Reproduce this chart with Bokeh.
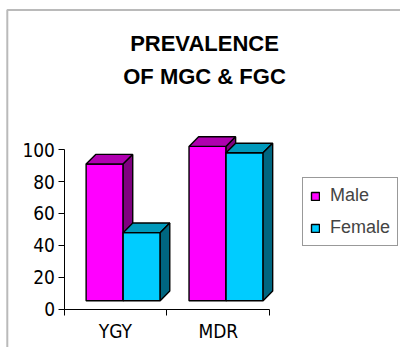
from bokeh.plotting import figure
from bokeh.models import (FixedTicker, LinearAxis, Range1d, Legend, LegendItem, Label,
                          BoxAnnotation)
from bokeh.embed import file_html
from bokeh.resources import INLINE

# ---- data ----
categories = ["YGY", "MDR"]
male = [91, 102]
female = [48, 98]
series_names = ["Male", "Female"]
y_ticks = [0, 20, 40, 60, 80, 100]
title_lines = ["PREVALENCE", "OF MGC & FGC"]

# ---- styles ----
front_colors = ["#FF00FF", "#00CCFF"]
top_colors = ["#B000B0", "#0099BB"]
side_colors = ["#800080", "#006680"]
floor = 5.4        # visual floor of the 3D bars
depth_x = 0.093    # 3D depth offset (x units)
depth_y = 6.0      # 3D depth offset (y units)
bar_w = 0.36
bar_off = [0.215, 0.575]

W, H = 400, 347
n = len(categories)
# pixel mapping of the plot area (figure pixels)
x0_px, px_per_x = 63.5, 102.9     # category 0 boundary, px per category
y0_px, px_per_y = 308.8, 1.597    # value 0 (from top), px per unit
x_start = -x0_px / px_per_x
x_end = (W - x0_px) / px_per_x
y_start = -(H - y0_px) / px_per_y
y_end = y0_px / px_per_y

p = figure(width=W, height=H, output_backend="svg", toolbar_location=None,
           x_range=Range1d(x_start, x_end), y_range=Range1d(y_start, y_end),
           min_border=0, x_axis_type=None, y_axis_type=None)
p.outline_line_color = None
p.background_fill_color = "white"
p.border_fill_color = "white"

# outer chart border (left and top edges visible)
p.add_layout(BoxAnnotation(left=x_start + 6.8 / px_per_x, right=x_end + 5,
                           top=y_end - 9.6 / px_per_y, bottom=y_start - 50,
                           fill_alpha=0, line_color="#1a1a1a", line_width=2))

fronts = []
for s, vals in enumerate([male, female]):
    lefts = [i + bar_off[s] for i in range(n)]
    rights = [l + bar_w for l in lefts]
    fr = p.quad(left=lefts, right=rights, bottom=[floor] * n, top=vals,
                fill_color=front_colors[s], line_color="black", line_width=1.4)
    fronts.append(fr)
    p.patches([[l, l + depth_x, r + depth_x, r] for l, r in zip(lefts, rights)],
              [[v, v + depth_y, v + depth_y, v] for v in vals],
              fill_color=top_colors[s], line_color="black", line_width=1.4)
    p.patches([[r, r + depth_x, r + depth_x, r] for r in rights],
              [[floor, floor + depth_y, v + depth_y, v] for v in vals],
              fill_color=side_colors[s], line_color="black", line_width=1.4)

tick_font = "DejaVu Sans Condensed, DejaVu Sans"
yaxis = LinearAxis(ticker=FixedTicker(ticks=y_ticks), bounds=(0, 100), fixed_location=0,
                   major_tick_out=6, major_tick_in=0, minor_tick_out=0, minor_tick_in=0,
                   major_label_standoff=3, major_label_text_font=tick_font,
                   major_label_text_font_size="19px", major_label_text_color="black",
                   axis_line_color="black", major_tick_line_color="black")
p.add_layout(yaxis, "left")

xaxis = LinearAxis(ticker=FixedTicker(ticks=[i + 0.5 for i in range(n)],
                                      minor_ticks=list(range(n + 1))),
                   bounds=(0, n), fixed_location=0,
                   major_label_overrides={i + 0.5: c for i, c in enumerate(categories)},
                   major_tick_out=0, major_tick_in=0, minor_tick_out=6, minor_tick_in=0,
                   major_label_standoff=5, major_label_text_font=tick_font,
                   major_label_text_font_size="19px", major_label_text_color="black",
                   axis_line_color="black", minor_tick_line_color="black")
p.add_layout(xaxis, "below")

legend = Legend(items=[LegendItem(label=series_names[s], renderers=[fronts[s]]) for s in range(2)],
                location=(302, H - 246), border_line_color="#333333", border_line_width=1,
                padding=7, spacing=11, label_text_font="Liberation Sans",
                label_text_font_size="18px", glyph_width=10, glyph_height=10,
                label_standoff=10, label_height=21, margin=0,
                background_fill_color="white", background_fill_alpha=1)
p.add_layout(legend, "center")

for k, t in enumerate(title_lines):
    p.add_layout(Label(x=204, y=H - 43 - 32.5 * k, x_units="screen", y_units="screen",
                       text=t, text_align="center", text_baseline="alphabetic",
                       text_font="Liberation Sans", text_font_style="bold",
                       text_font_size="22px", text_color="black"))

open("out.html", "w").write(file_html(p, INLINE))
